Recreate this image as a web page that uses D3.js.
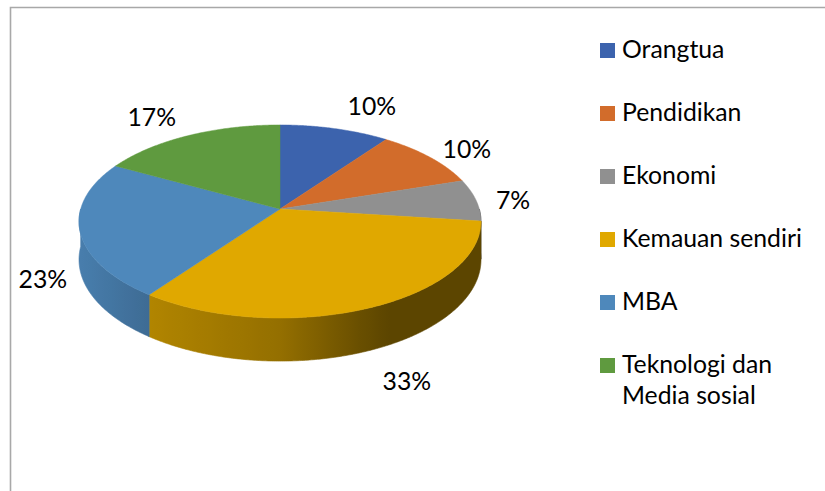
<!DOCTYPE html>
<html>
<head>
<meta charset="utf-8">
<script src="https://cdn.jsdelivr.net/npm/d3@7"></script>
<style>
  html, body { margin: 0; padding: 0; background: #fff; }
  svg { display: block; }
  text { font-family: Lato, "Open Sans", "Noto Sans", sans-serif; fill: #000; }
</style>
</head>
<body>
<svg id="chart" width="825" height="491"></svg>
<script>
// ---- data ----
const categories = ["Orangtua", "Pendidikan", "Ekonomi", "Kemauan sendiri", "MBA", "Teknologi dan Media sosial"];
const values = [10, 10, 7, 33, 23, 17];
const percentLabels = ["10%", "10%", "7%", "33%", "23%", "17%"];
const colors = ["#3c63ad", "#d26c2b", "#909090", "#e0a800", "#4e88bb", "#5f9a3f"];

// ---- layout / style ----
const W = 825, H = 491;
const svg = d3.select("#chart");

// frame
svg.append("path")
  .attr("d", `M10.5,${H} L10.5,7.5 L${W},7.5`)
  .attr("fill", "none").attr("stroke", "#a8a8a8").attr("stroke-width", 1.6);

// font size matched to legend width
const probe = svg.append("text").attr("font-size", 20).text("Kemauan sendiri");
const probeLen = probe.node().getComputedTextLength();
probe.remove();
const fontSize = Math.max(14, Math.min(28, 20 * 180 / probeLen));

// perspective projection of the pie disk
const cx = 280, cy = 209, R = 199.3, A = 94.9, k = 0.1295, depth = 37.5;
const xScale = d3.scaleLinear().domain([-1, 1]).range([cx - R, cx + R]);
function proj(theta, r = 1, drop = 0) {
  const u = Math.sin(theta) * r, v = -Math.cos(theta) * r;
  const w = 1 - k * v;
  return [cx + R * u / w, cy + A * v / w + drop / w];
}

const pie = d3.pie().sort(null).startAngle(0).endAngle(2 * Math.PI);
const arcs = pie(values);

// side shading
const shade = d3.scaleLinear()
  .domain([-1, -0.65, 0, 0.4, 0.55, 1])
  .range([0.92, 0.79, 0.66, 0.47, 0.41, 0.41])
  .clamp(true);
const defs = svg.append("defs");
arcs.forEach((a, i) => {
  const g = defs.append("linearGradient")
    .attr("id", "side" + i).attr("gradientUnits", "userSpaceOnUse")
    .attr("x1", xScale(-1)).attr("x2", xScale(1)).attr("y1", 0).attr("y2", 0);
  const base = d3.rgb(colors[i]);
  d3.range(-1, 1.0001, 0.05).forEach(u => {
    const f = shade(u);
    g.append("stop")
      .attr("offset", ((u + 1) / 2 * 100).toFixed(1) + "%")
      .attr("stop-color", d3.rgb(base.r * f, base.g * f, base.b * f).formatHex());
  });
});

function sampleAngles(a0, a1) {
  const n = Math.max(2, Math.ceil((a1 - a0) / (Math.PI / 360)));
  return d3.range(n + 1).map(j => a0 + (a1 - a0) * j / n);
}

// sides (front half only)
const sides = svg.append("g");
arcs.forEach((a, i) => {
  const s = Math.max(a.startAngle, Math.PI / 2);
  const e = Math.min(a.endAngle, 3 * Math.PI / 2);
  if (e <= s) return;
  const angs = sampleAngles(s, e);
  const topPts = angs.map(t => proj(t));
  const botPts = angs.slice().reverse().map(t => proj(t, 1, depth));
  const pts = topPts.concat(botPts);
  sides.append("path")
    .attr("d", "M" + pts.map(p => p[0].toFixed(2) + "," + p[1].toFixed(2)).join("L") + "Z")
    .attr("fill", `url(#side${i})`)
    .attr("stroke", `url(#side${i})`).attr("stroke-width", 0.6);
});

// top faces
const tops = svg.append("g");
arcs.forEach((a, i) => {
  const c = proj(0, 0);
  const pts = [c].concat(sampleAngles(a.startAngle, a.endAngle).map(t => proj(t)));
  tops.append("path")
    .attr("d", "M" + pts.map(p => p[0].toFixed(2) + "," + p[1].toFixed(2)).join("L") + "Z")
    .attr("fill", colors[i])
    .attr("stroke", colors[i]).attr("stroke-width", 0.5);
});

// data labels
const lbl = svg.append("g");
arcs.forEach((a, i) => {
  const mid = (a.startAngle + a.endAngle) / 2;
  const u = Math.sin(mid), v = -Math.cos(mid);
  const p = proj(mid, 1, v > 0 ? depth : 0);
  const x = p[0] + Math.sign(u) * 37;
  const y = p[1] + v * Math.abs(v) * 26 + (v > 0 ? 8 : 0);
  lbl.append("text")
    .attr("x", x).attr("y", y)
    .attr("text-anchor", "middle").attr("dominant-baseline", "central")
    .attr("font-size", fontSize)
    .text(percentLabels[i]);
});

// legend
const legX = 600, legY0 = 58, legStep = 63, lineH = 31, maxW = 190;
const leg = svg.append("g");
categories.forEach((name, i) => {
  const by = legY0 + i * legStep;
  leg.append("rect")
    .attr("x", legX).attr("y", by - 15).attr("width", 15).attr("height", 15)
    .attr("fill", colors[i]);
  const t = leg.append("text").attr("x", legX + 22).attr("y", by).attr("font-size", fontSize);
  // greedy wrap
  const words = name.split(" ");
  let line = [], lineNo = 0;
  let ts = t.append("tspan").attr("x", legX + 22).attr("y", by);
  words.forEach(w => {
    line.push(w);
    ts.text(line.join(" "));
    if (ts.node().getComputedTextLength() > maxW && line.length > 1) {
      line.pop();
      ts.text(line.join(" "));
      line = [w];
      lineNo++;
      ts = t.append("tspan").attr("x", legX + 22).attr("y", by + lineNo * lineH).text(w);
    }
  });
});
</script>
</body>
</html>
